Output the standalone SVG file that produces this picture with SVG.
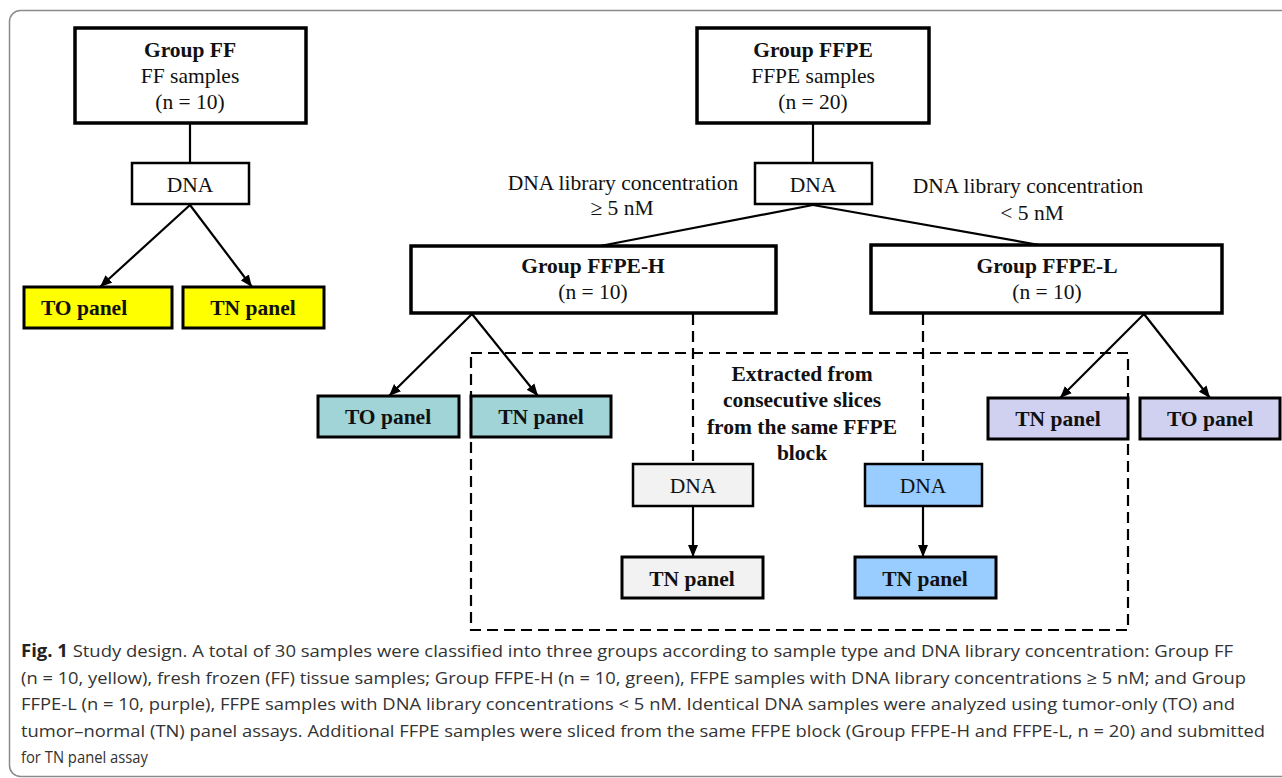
<svg xmlns="http://www.w3.org/2000/svg" width="1282" height="778" viewBox="0 0 1282 778">
<defs>
<marker id="arr" markerUnits="userSpaceOnUse" markerWidth="13" markerHeight="11" refX="12" refY="5.5" orient="auto">
<path d="M0,0.5 L12,5.5 L0,10.5 z" fill="#000"/>
</marker>
<style>
.big{fill:#fff;stroke:#000;stroke-width:3.5}
.dna{stroke:#000;stroke-width:2.5}
.pan{stroke:#000;stroke-width:3}
.t{font-family:"Liberation Serif","Times New Roman",serif;font-size:21.5px;fill:#111;text-anchor:middle}
.b{font-weight:bold}
.ln{stroke:#000;stroke-width:2.2;fill:none}
.ar{stroke:#000;stroke-width:2.2;fill:none;marker-end:url(#arr)}
.dash{stroke:#000;stroke-width:2.2;fill:none;stroke-dasharray:11 6}
.cap{font-family:"Liberation Sans Narrow","Open Sans","Noto Sans",sans-serif;font-size:17px;fill:#333}
</style>
</defs>
<rect x="9.5" y="10.5" width="1290" height="766" rx="11" fill="#fff" stroke="#8a8a8a" stroke-width="1.5"/>

<g id="connectors">
<line class="ln" x1="190" y1="123" x2="190" y2="163"/>
<line class="ar" x1="190" y1="205" x2="100" y2="287"/>
<line class="ar" x1="190" y1="205" x2="252" y2="287"/>
<line class="ln" x1="813" y1="123" x2="813" y2="163"/>
<line class="ln" x1="813" y1="205" x2="600" y2="246"/>
<line class="ln" x1="813" y1="205" x2="1045" y2="246"/>
<line class="ar" x1="472" y1="314" x2="389" y2="396"/>
<line class="ar" x1="472" y1="314" x2="538" y2="396"/>
<line class="ar" x1="1144" y1="314" x2="1060" y2="398"/>
<line class="ar" x1="1144" y1="314" x2="1210" y2="398"/>
<rect class="dash" x="471" y="353" width="657" height="277"/>
<line class="dash" x1="693" y1="314" x2="693" y2="464"/>
<line class="dash" x1="923" y1="314" x2="923" y2="464"/>
<line class="ar" x1="693" y1="506" x2="693" y2="557"/>
<line class="ar" x1="923" y1="506" x2="923" y2="557"/>
</g>

<g id="group-ff">
<rect class="big" x="75" y="28" width="231" height="95"/>
<text class="t b" x="190" y="57">Group FF</text>
<text class="t" x="190" y="83">FF samples</text>
<text class="t" x="190" y="109">(n = 10)</text>
</g>
<g id="dna-ff">
<rect class="dna" fill="#fff" x="132" y="163" width="117" height="41"/>
<text class="t" x="190" y="192">DNA</text>
</g>
<g id="ff-to">
<rect class="pan" fill="#ffff00" x="24" y="287" width="148" height="41"/>
<text class="t b" x="84" y="315">TO panel</text>
</g>
<g id="ff-tn">
<rect class="pan" fill="#ffff00" x="183" y="287" width="141" height="41"/>
<text class="t b" x="253" y="315">TN panel</text>
</g>

<g id="group-ffpe">
<rect class="big" x="697" y="28" width="232" height="95"/>
<text class="t b" x="813" y="57">Group FFPE</text>
<text class="t" x="813" y="83">FFPE samples</text>
<text class="t" x="813" y="109">(n = 20)</text>
</g>
<g id="dna-ffpe">
<rect class="dna" fill="#fff" x="755" y="163" width="117" height="41"/>
<text class="t" x="813" y="192">DNA</text>
</g>
<g id="label-high">
<text class="t" x="623" y="190">DNA library concentration</text>
<text class="t" x="622" y="215">≥ 5 nM</text>
</g>
<g id="label-low">
<text class="t" x="1028" y="193">DNA library concentration</text>
<text class="t" x="1032" y="220">&lt; 5 nM</text>
</g>

<g id="group-ffpe-h">
<rect class="big" x="411" y="246" width="365" height="67"/>
<text class="t b" x="593" y="273">Group FFPE-H</text>
<text class="t" x="593" y="299">(n = 10)</text>
</g>
<g id="group-ffpe-l">
<rect class="big" x="871" y="245" width="351" height="68"/>
<text class="t b" x="1047" y="273">Group FFPE-L</text>
<text class="t" x="1047" y="299">(n = 10)</text>
</g>

<g id="h-to">
<rect class="pan" fill="#a0d4d6" x="318" y="396" width="141" height="41"/>
<text class="t b" x="388" y="424">TO panel</text>
</g>
<g id="h-tn">
<rect class="pan" fill="#a0d4d6" x="471" y="396" width="140" height="41"/>
<text class="t b" x="541" y="424">TN panel</text>
</g>
<g id="l-tn">
<rect class="pan" fill="#d0d0f0" x="988" y="398" width="140" height="41"/>
<text class="t b" x="1058" y="426">TN panel</text>
</g>
<g id="l-to">
<rect class="pan" fill="#d0d0f0" x="1140" y="398" width="140" height="41"/>
<text class="t b" x="1210" y="426">TO panel</text>
</g>

<g id="note">
<text class="t b" x="802" y="381">Extracted from</text>
<text class="t b" x="802" y="407">consecutive slices</text>
<text class="t b" x="802" y="434">from the same FFPE</text>
<text class="t b" x="802" y="460">block</text>
</g>

<g id="dna-h2">
<rect class="dna" fill="#f2f2f2" x="633" y="464" width="120" height="42"/>
<text class="t" x="693" y="493">DNA</text>
</g>
<g id="tn-h2">
<rect class="pan" fill="#f2f2f2" x="622" y="557" width="141" height="41"/>
<text class="t b" x="692" y="586">TN panel</text>
</g>
<g id="dna-l2">
<rect class="dna" fill="#99ccff" x="865" y="464" width="117" height="42"/>
<text class="t" x="923" y="493">DNA</text>
</g>
<g id="tn-l2">
<rect class="pan" fill="#99ccff" x="855" y="557" width="141" height="41"/>
<text class="t b" x="925" y="586">TN panel</text>
</g>

<g id="caption">
<text class="cap" x="21" y="657" textLength="1212" lengthAdjust="spacingAndGlyphs"><tspan font-weight="bold" fill="#222">Fig. 1</tspan>  Study design. A total of 30 samples were classified into three groups according to sample type and DNA library concentration: Group FF</text>
<text class="cap" x="21" y="683.5" textLength="1225" lengthAdjust="spacingAndGlyphs">(n = 10, yellow), fresh frozen (FF) tissue samples; Group FFPE-H (n = 10, green), FFPE samples with DNA library concentrations ≥ 5 nM; and Group</text>
<text class="cap" x="21" y="710" textLength="1214" lengthAdjust="spacingAndGlyphs">FFPE-L (n = 10, purple), FFPE samples with DNA library concentrations &lt; 5 nM. Identical DNA samples were analyzed using tumor-only (TO) and</text>
<text class="cap" x="21" y="736.5" textLength="1244" lengthAdjust="spacingAndGlyphs">tumor–normal (TN) panel assays. Additional FFPE samples were sliced from the same FFPE block (Group FFPE-H and FFPE-L, n = 20) and submitted</text>
<text class="cap" x="21" y="763" textLength="127" lengthAdjust="spacingAndGlyphs">for TN panel assay</text>
</g>
</svg>
